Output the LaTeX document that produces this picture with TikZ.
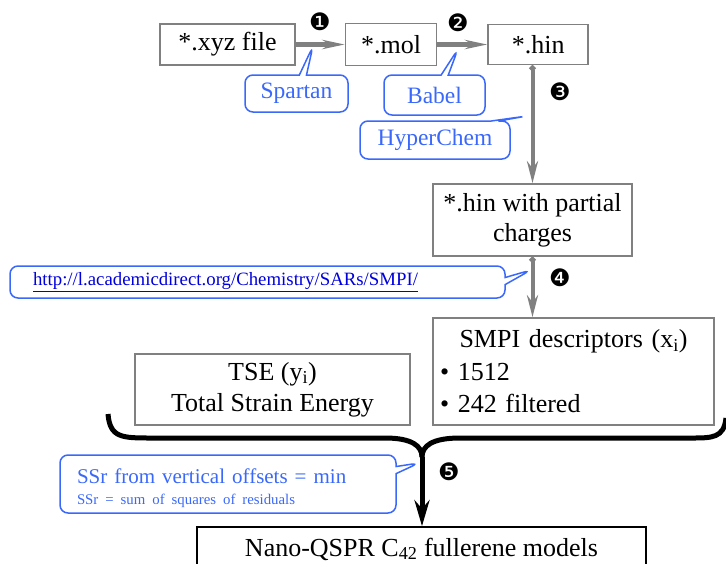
\documentclass[tikz,border=0pt]{standalone}
\usepackage{fontspec}
\setmainfont{Liberation Serif}
\newfontfamily\dingfont{DejaVu Sans}
\usetikzlibrary{arrows, arrows.meta, shapes, shapes.callouts, positioning}

\definecolor{boxgray}{RGB}{128,128,128}
\definecolor{noteblue}{RGB}{58,104,250}
\definecolor{linkblue}{RGB}{0,0,220}

\begin{document}
\begin{tikzpicture}[x=1pt,y=-1pt,>=stealth',
  file box/.style={draw=boxgray,line width=1.6pt,inner sep=0pt,align=center,font=\fontsize{26}{30}\selectfont},
  tool note/.style={rectangle callout,draw=noteblue,text=noteblue,line width=1.5pt,rounded corners=8pt,inner sep=0pt,font=\fontsize{23.5}{26}\selectfont},
  step no/.style={font=\dingfont\fontsize{24}{24}\selectfont},
  conv arrow/.style={-{Stealth[length=22pt,width=9pt]},draw=boxgray,line width=5pt},
  run arrow/.style={{Circle[length=6pt]}-{Stealth[length=22pt,width=11pt]},draw=boxgray,line width=4pt},
  fit arrow/.style={-{Stealth[length=26pt,width=15pt]},line width=5pt},
  join brace/.style={line width=5pt}]
  \useasboundingbox (0,0) rectangle (726,563);

  % file boxes
  \node[file box,minimum width=135pt,minimum height=41pt] (xyz) at (227.5,44.5) {*.xyz file};
  \node[file box,minimum width=91pt,minimum height=42pt,right=49pt of xyz] (mol) {*.mol};
  \node[file box,minimum width=100pt,minimum height=40pt,right=50pt of mol] (hin) {*.hin};
  \node[file box,minimum width=199pt,minimum height=72pt] (partial) at (532.5,220) {*.hin with partial\\charges};
  \node[file box,minimum width=281pt,minimum height=107pt,inner xsep=7pt,text width=267pt,align=left,font=\fontsize{26}{32.5}\selectfont] (smpi) at (573.5,371.5)
    {\makebox[267pt]{SMPI descriptors (x\textsubscript{i})}\\\textbullet{} 1512\\\textbullet{} 242 filtered};
  \node[file box,minimum width=275pt,minimum height=71pt,font=\fontsize{26}{31}\selectfont] (tse) at (272.5,389.5)
    {TSE (y\textsubscript{i})\\Total Strain Energy};
  \node[file box,draw=black,minimum width=449pt,minimum height=44pt] (nano) at (421.5,549)
    {Nano-QSPR C\textsubscript{42} fullerene models};

  % step numbers
  \node[step no] (s1) at (320,22) {❶};
  \node[step no] (s2) at (458,23) {❷};
  \node[step no] (s3) at (560,92) {❸};
  \node[step no] (s4) at (560,278) {❹};
  \node[step no] (s5) at (449,472) {❺};

  % callouts
  \coordinate (spartan tip) at (313,46);
  \coordinate (babel tip) at (458,49);
  \coordinate (hyper tip) at (527,116);
  \coordinate (url tip) at (531,270);
  \coordinate (ssr tip) at (419,463);
  \node[tool note,minimum width=103pt,minimum height=37pt,callout absolute pointer={(spartan tip)}] (spartan) at (296.5,93.5) {Spartan};
  \node[tool note,minimum width=101pt,minimum height=40pt,callout absolute pointer={(babel tip)}] (babel) at (434.5,95) {Babel};
  \node[tool note,minimum width=150pt,minimum height=38pt,callout absolute pointer={(hyper tip)}] (hyper) at (435,140) {HyperChem};
  \node[tool note,minimum width=495pt,minimum height=32pt,inner xsep=23pt,text width=449pt,align=left,text=linkblue,font=\fontsize{18.8}{21}\selectfont,callout absolute pointer={(url tip)}] (url) at (257.5,282)
    {\underline{http://l.academicdirect.org/Chemistry/SARs/SMPI/}};
  \node[tool note,minimum width=336pt,minimum height=58pt,inner xsep=17pt,text width=302pt,align=left,font=\fontsize{21}{21}\selectfont,callout absolute pointer={(ssr tip)}] (ssr) at (228,484)
    {\rule{0pt}{23pt}SSr from vertical offsets = min\\{\fontsize{14.8}{17}\selectfont SSr = sum of squares of residuals}};

  % conversions
  \draw[conv arrow] (xyz) -- (mol);
  \draw[conv arrow] (mol) -- (hin);
  \draw[run arrow] (hin.south -| partial.north) -- (partial.north);
  \draw[run arrow] (partial.south) -- (partial.south |- smpi.north);

  % brace joining y and x
  \coordinate (brace left) at (108,414);
  \coordinate (brace right) at (726,418);
  \coordinate (brace join) at (422,457);
  \draw[join brace] (brace left) .. controls (110,438) and (122,438) .. (152,438) -- (385,438) .. controls (412,438) and (422,446) .. (brace join);
  \draw[join brace] (brace right) .. controls (724,438) and (712,438) .. (692,438) -- (460,438) .. controls (432,438) and (422,446) .. (brace join);
  \draw[fit arrow] (brace join) -- (brace join |- nano.north);
\end{tikzpicture}
\end{document}
